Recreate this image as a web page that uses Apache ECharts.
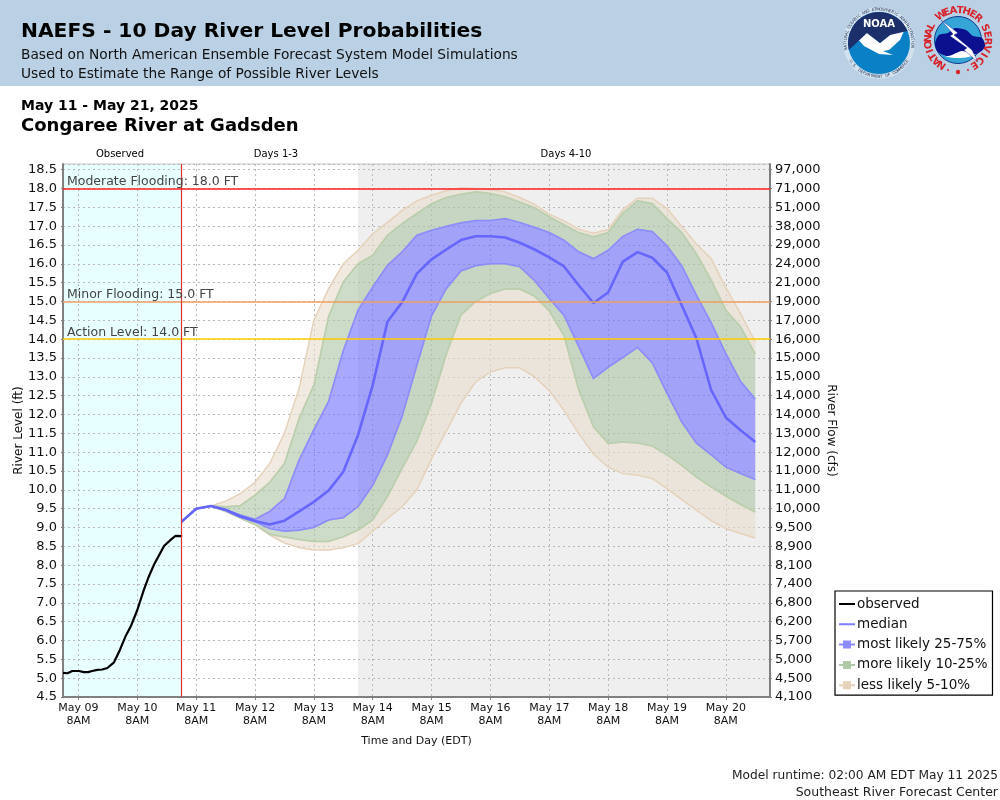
<!DOCTYPE html>
<html>
<head>
<meta charset="utf-8">
<style>html,body{margin:0;padding:0;background:#fff}#c{width:1000px;height:800px}</style>
<script src="https://cdn.jsdelivr.net/npm/echarts@6/dist/echarts.min.js"></script>
</head>
<body>
<div id="c"></div>
<script>
// Hours are counted from May 09 00:00 EDT.
const xTickHours = [8, 32, 56, 80, 104, 128, 152, 176, 200, 224, 248, 272];
const xTickLabels = ['May 09\n8AM','May 10\n8AM','May 11\n8AM','May 12\n8AM','May 13\n8AM','May 14\n8AM','May 15\n8AM','May 16\n8AM','May 17\n8AM','May 18\n8AM','May 19\n8AM','May 20\n8AM'];
const flowLabels = ['4,100','4,500','5,000','5,700','6,200','6,800','7,400','8,100','8,900','9,500','10,000','11,000','11,000','12,000','13,000','14,000','14,000','15,000','15,000','16,000','17,000','19,000','21,000','24,000','29,000','38,000','51,000','71,000','97,000'];
const obsHours = [1.7,2.4,3.5,5.5,8.2,10.2,11.9,13.6,15.7,17.7,19.8,22.5,24.9,27.2,29.3,32,34.7,36.7,39,42.9,45.6,47.6,50.3];
const observed = [5.14,5.15,5.13,5.19,5.19,5.16,5.16,5.19,5.22,5.23,5.27,5.42,5.75,6.11,6.37,6.81,7.35,7.7,8.04,8.51,8.67,8.78,8.77];
const fcHours = [50,56,62,68,74,80,86,92,98,104,110,116,122,128,134,140,146,152,158,164,170,176,182,188,194,200,206,212,218,224,230,236,242,248,254,260,266,272,278,284];
const median = [9.15,9.5,9.57,9.47,9.3,9.17,9.08,9.18,9.43,9.68,9.98,10.48,11.45,12.78,14.46,14.98,15.74,16.12,16.38,16.63,16.73,16.73,16.7,16.56,16.38,16.17,15.93,15.43,14.96,15.24,16.06,16.31,16.16,15.77,14.9,14.02,12.65,11.92,11.58,11.27];
const p75 = [9.15,9.5,9.57,9.47,9.33,9.22,9.43,9.77,10.8,11.6,12.35,13.7,14.77,15.39,15.96,16.32,16.76,16.89,17.0,17.09,17.15,17.15,17.2,17.1,16.97,16.83,16.63,16.32,16.14,16.36,16.73,16.92,16.86,16.48,15.95,15.17,14.44,13.62,12.88,12.41];
const p25 = [9.15,9.5,9.57,9.45,9.27,9.15,8.97,8.9,8.93,9.0,9.2,9.26,9.55,10.12,10.92,11.95,13.3,14.62,15.34,15.81,15.95,16.0,16.0,15.92,15.55,15.08,14.63,13.8,12.95,13.25,13.51,13.78,13.37,12.56,11.8,11.24,10.93,10.6,10.43,10.27];
const p90 = [9.15,9.5,9.57,9.55,9.58,9.86,10.2,10.7,11.9,12.78,14.6,15.52,16.0,16.23,16.76,17.07,17.34,17.6,17.76,17.85,17.91,17.87,17.78,17.64,17.49,17.25,17.04,16.83,16.72,16.83,17.35,17.67,17.6,17.2,16.83,16.27,15.57,14.77,14.33,13.6];
const p95 = [9.15,9.5,9.57,9.7,9.9,10.2,10.7,11.5,12.7,14.5,15.34,16.0,16.36,16.8,17.1,17.42,17.67,17.82,17.94,18.02,18.0,17.97,17.91,17.76,17.58,17.32,17.14,16.92,16.81,16.91,17.44,17.74,17.74,17.47,17.0,16.52,16.14,15.37,14.68,13.93];
const p10 = [9.15,9.5,9.57,9.43,9.25,9.08,8.82,8.75,8.68,8.63,8.63,8.75,8.93,9.2,9.82,10.57,11.29,12.3,13.6,14.64,15.0,15.21,15.33,15.33,15.14,14.75,14.09,12.65,11.67,11.23,11.27,11.24,11.16,10.93,10.65,10.34,10.08,9.83,9.61,9.41];
const p5 = [9.15,9.5,9.57,9.43,9.25,9.07,8.8,8.59,8.47,8.4,8.4,8.46,8.57,8.9,9.24,9.55,10.0,10.83,11.55,12.3,12.87,13.13,13.24,13.24,13.0,12.63,12.11,11.49,10.95,10.6,10.43,10.39,10.3,10.03,9.74,9.46,9.18,8.97,8.84,8.72];
const thresholdValues = [18, 15, 14];
const thresholdLabels = ['Moderate Flooding: 18.0 FT', 'Minor Flooding: 15.0 FT', 'Action Level: 14.0 FT'];
const thresholdColors = ['#ff2020', '#f0a060', '#ffcc00'];
const nowHour = 50, observedEndHour = 50, days4StartHour = 122;
const axisStart = 1.7, axisEnd = 290;

const F = 'DejaVu Sans';

function ringPolygons(api, rings, fill, edge) {
  const children = [];
  rings.forEach(([lo, hi]) => {
    const lower = fcHours.map((h, i) => api.coord([h, lo[i]]));
    const upper = fcHours.map((h, i) => api.coord([h, hi[i]]));
    children.push({type: 'polygon', shape: {points: lower.concat(upper.slice().reverse())}, style: {fill: fill, stroke: null}});
    children.push({type: 'polyline', shape: {points: lower}, style: {stroke: edge, lineWidth: 1.5, fill: 'none'}});
    children.push({type: 'polyline', shape: {points: upper}, style: {stroke: edge, lineWidth: 1.5, fill: 'none'}});
  });
  return {type: 'group', children};
}
function bandSeries(name, arrays, rings, fill, edge) {
  return {
    type: 'custom', name, silent: true, z: 2, clip: true,
    itemStyle: {color: edge},
    data: fcHours.map((h, i) => [h].concat(arrays.map(a => a[i]))),
    encode: {x: 0, y: arrays.map((_, k) => k + 1)},
    renderItem: (params, api) => params.dataIndex === 0 ? ringPolygons(api, rings, fill, edge) : null
  };
}
const lineIcon = 'path://M8,0L8,0ZM8,14L8,14ZM0,6H16V8H0Z';
const boxIcon = 'path://M8,0L8,0ZM8,14L8,14ZM0,6H4V3H12V6H16V8H12V11H4V8H0Z';

// logo drawing (decoration only, not chart data)
const logo = [];
function ringText(str, cx, cy, r, startDeg, stepDeg, font, color, inward) {
  [...str].forEach((ch, i) => {
    const a = (startDeg + i * stepDeg) * Math.PI / 180;
    logo.push({type: 'text', x: cx + r * Math.sin(a), y: cy - r * Math.cos(a), rotation: inward ? -a : Math.PI - a,
      style: {text: ch, font, fill: color, textAlign: 'center', textVerticalAlign: 'middle'}, silent: true, z: 5});
  });
}
// NOAA
const noaaArc = [];
for (let d = -103; d <= 67; d += 10) noaaArc.push([879 + 31 * Math.sin(d * Math.PI / 180), 43 - 31 * Math.cos(d * Math.PI / 180)]);
logo.push({type: 'circle', shape: {cx: 879, cy: 43, r: 36}, style: {fill: 'rgba(255,255,255,0.35)'}, z: 3});
logo.push({type: 'circle', shape: {cx: 879, cy: 43, r: 31}, style: {fill: '#0a80c6'}, z: 4});
logo.push({type: 'polygon', shape: {points: [[849,29],[867,33],[880,43],[890,35],[908,22],[900,40],[889,50],[883,51],[893,55],[879,54],[864,46]]}, style: {fill: '#fff'}, z: 4});
logo.push({type: 'polygon', shape: {points: noaaArc.concat([[890,35],[880,43],[867,33]])}, style: {fill: '#1d2f6b'}, z: 4});
logo.push({type: 'text', x: 879, y: 24, style: {text: 'NOAA', font: 'bold 10px ' + F, fill: '#fff', textAlign: 'center', textVerticalAlign: 'middle'}, z: 5});
ringText('NATIONAL OCEANIC AND ATMOSPHERIC ADMINISTRATION', 879, 43, 33.6, -100, 4.26, '4px ' + F, '#2a3a5c', true);
ringText('U.S. DEPARTMENT OF COMMERCE', 879, 43, 33.6, 237, -4.4, '4px ' + F, '#2a3a5c', false);
// NWS
logo.push({type: 'circle', shape: {cx: 958, cy: 40, r: 23.5}, style: {fill: '#35a5d8', stroke: '#143a8c', lineWidth: 1}, z: 4});
logo.push({type: 'polygon', shape: {points: [[940,52],[948,57],[960,58],[972,56],[979,50],[966,44],[950,44]], smooth: 0.3}, style: {fill: '#fff'}, z: 4});
logo.push({type: 'polygon', shape: {points: [[935,44],[939,35],[948,33],[955,28],[966,30],[973,36],[982,38],[985,47],[976,54],[962,51],[948,56],[938,52]], smooth: 0.3}, style: {fill: '#0b108e'}, z: 4});
logo.push({type: 'polygon', shape: {points: [[941,20],[958,33],[954,35],[972,50],[978,62],[964,50],[967,48],[950,36],[953,34]]}, style: {fill: '#fff', stroke: '#0b108e', lineWidth: 0.4}, z: 4});
ringText('NATIONAL', 958, 40, 29.5, -147, 12, 'bold 10px ' + F, '#d8232a', true);
ringText('WEATHER', 958, 40, 29.5, -35, 13, 'bold 10px ' + F, '#d8232a', true);
ringText('SERVICE', 958, 40, 29.5, 66, 13.5, 'bold 10px ' + F, '#d8232a', true);
[[948,70,1],[958,72,2.2],[968,70,1]].forEach(([x,y,r]) => logo.push({type: 'circle', shape: {cx: x, cy: y, r}, style: {fill: '#d8232a'}, z: 4}));

const option = {
  animation: false,
  backgroundColor: '#fff',
  textStyle: {fontFamily: F},
  title: [
    {text: 'NAEFS - 10 Day River Level Probabilities', left: 21, top: 22, textStyle: {fontFamily: F, fontSize: 20.25, fontWeight: 'bold', color: '#000'}, padding: 0},
    {text: 'Based on North American Ensemble Forecast System Model Simulations', left: 21, top: 48, textStyle: {fontFamily: F, fontSize: 13.75, fontWeight: 'normal', color: '#111'}, padding: 0},
    {text: 'Used to Estimate the Range of Possible River Levels', left: 21, top: 67, textStyle: {fontFamily: F, fontSize: 13.75, fontWeight: 'normal', color: '#111'}, padding: 0},
    {text: 'May 11 - May 21, 2025', left: 21, top: 99, textStyle: {fontFamily: F, fontSize: 14, fontWeight: 'bold', color: '#000'}, padding: 0},
    {text: 'Congaree River at Gadsden', left: 21, top: 117, textStyle: {fontFamily: F, fontSize: 18, fontWeight: 'bold', color: '#000'}, padding: 0},
    {text: 'Observed', left: 120, top: 149, textAlign: 'center', textStyle: {fontFamily: F, fontSize: 10, fontWeight: 'normal', color: '#000'}, padding: 0},
    {text: 'Days 1-3', left: 276, top: 149, textAlign: 'center', textStyle: {fontFamily: F, fontSize: 10, fontWeight: 'normal', color: '#000'}, padding: 0},
    {text: 'Days 4-10', left: 566, top: 149, textAlign: 'center', textStyle: {fontFamily: F, fontSize: 10, fontWeight: 'normal', color: '#000'}, padding: 0},
    {text: 'Model runtime: 02:00 AM EDT May 11 2025', right: 2, top: 770, textStyle: {fontFamily: F, fontSize: 12.2, fontWeight: 'normal', color: '#222'}, padding: 0},
    {text: 'Southeast River Forecast Center', right: 2, top: 786, textStyle: {fontFamily: F, fontSize: 12.5, fontWeight: 'normal', color: '#222'}, padding: 0}
  ],
  graphic: [{type: 'rect', shape: {x: 0, y: 0, width: 1000, height: 86}, style: {fill: '#bad1e5'}, z: -10, silent: true}].concat(logo),
  legend: {
    orient: 'vertical', left: 835, top: 591, padding: [6, 5, 3, 4], itemGap: 6.3, itemWidth: 16, itemHeight: 14,
    backgroundColor: '#fff', borderColor: '#000', borderWidth: 1.2, selectedMode: false,
    textStyle: {fontFamily: F, fontSize: 13.5, color: '#111', padding: [0, 0, 0, -3]},
    data: [
      {name: 'observed', icon: lineIcon, itemStyle: {color: '#000'}},
      {name: 'median', icon: lineIcon, itemStyle: {color: '#8080ff'}},
      {name: 'most likely 25-75%', icon: boxIcon, itemStyle: {color: '#8c8cff'}},
      {name: 'more likely 10-25%', icon: boxIcon, itemStyle: {color: '#aecaa6'}},
      {name: 'less likely 5-10%', icon: boxIcon, itemStyle: {color: '#e6d2ba'}}
    ]
  },
  grid: {left: 63, top: 164, width: 707, height: 533, outerBoundsMode: 'none', containLabel: false, show: true, borderColor: '#c4c4c4', borderWidth: 1, backgroundColor: 'transparent'},
  xAxis: {
    type: 'value', min: axisStart, max: axisEnd, name: 'Time and Day (EDT)', nameLocation: 'middle', nameGap: 39, nameMoveOverlap: false,
    nameTextStyle: {fontFamily: F, fontSize: 11, color: '#111'},
    axisLine: {show: true, lineStyle: {color: '#808080', width: 2}},
    axisTick: {show: true, customValues: xTickHours, length: 3, lineStyle: {color: '#808080'}},
    axisLabel: {customValues: xTickHours, fontFamily: F, fontSize: 11, lineHeight: 13, color: '#111', margin: 5,
      formatter: v => xTickLabels[xTickHours.indexOf(v)] || ''},
    splitLine: {show: true, lineStyle: {color: '#b8b8b8', type: [2, 3], width: 1}}
  },
  yAxis: [
    {
      type: 'value', min: 4.5, max: 18.65, interval: 0.5, position: 'left',
      name: 'River Level (ft)', nameLocation: 'middle', nameGap: 38, nameRotate: 90, nameMoveOverlap: false,
      nameTextStyle: {fontFamily: F, fontSize: 12, color: '#111'},
      axisLine: {show: true, lineStyle: {color: '#808080', width: 2}},
      axisTick: {show: true, length: 2, lineStyle: {color: '#808080'}},
      axisLabel: {fontFamily: F, fontSize: 13, color: '#111', margin: 6, padding: [3, 0, 0, 0], showMaxLabel: false, formatter: v => v.toFixed(1)},
      splitLine: {show: true, lineStyle: {color: '#b8b8b8', type: [2, 3], width: 1}}
    },
    {
      type: 'value', min: 4.5, max: 18.65, interval: 0.5, position: 'right',
      name: 'River Flow (cfs)', nameLocation: 'middle', nameGap: 55, nameRotate: -90, nameMoveOverlap: false,
      nameTextStyle: {fontFamily: F, fontSize: 12, color: '#111'},
      axisLine: {show: true, lineStyle: {color: '#808080', width: 2}},
      axisTick: {show: true, length: 2, lineStyle: {color: '#808080'}},
      axisLabel: {fontFamily: F, fontSize: 13, color: '#111', margin: 5, padding: [3, 0, 0, 0], showMaxLabel: false,
        formatter: v => flowLabels[Math.round((v - 4.5) / 0.5)] || ''},
      splitLine: {show: false}
    }
  ],
  series: [
    {type: 'line', name: 'backdrop', data: [], z: -1, silent: true,
      markArea: {silent: true, z: -1, data: [
        [{xAxis: axisStart, yAxis: 4.5, itemStyle: {color: '#e8ffff'}}, {xAxis: observedEndHour, yAxis: 18.65}],
        [{xAxis: days4StartHour, yAxis: 4.5, itemStyle: {color: '#efefef'}}, {xAxis: axisEnd, yAxis: 18.65}]
      ]}},
    bandSeries('less likely 5-10%', [p5, p10, p90, p95], [[p5, p10], [p90, p95]], 'rgba(232,220,205,0.6)', '#e6d2ba'),
    bandSeries('more likely 10-25%', [p10, p25, p75, p90], [[p10, p25], [p75, p90]], 'rgba(170,196,164,0.6)', '#b8d0ae'),
    bandSeries('most likely 25-75%', [p25, p75], [[p25, p75]], 'rgba(110,110,255,0.6)', '#8c8cff'),
    {type: 'line', name: 'median', z: 3, symbol: 'none', silent: true, itemStyle: {color: '#8080ff'},
      lineStyle: {color: '#6666ff', width: 2.6}, data: fcHours.map((h, i) => [h, median[i]])},
    {type: 'line', name: 'observed', z: 3, symbol: 'none', silent: true, itemStyle: {color: '#000'},
      lineStyle: {color: '#000', width: 2.2}, data: obsHours.map((h, i) => [h, observed[i]])},
    {type: 'line', name: 'thresholds', data: [], z: 4, silent: true,
      markLine: {silent: true, symbol: 'none', z: 4, animation: false, data:
        thresholdValues.map((v, i) => ({yAxis: v, lineStyle: {color: thresholdColors[i], type: 'solid', width: 1.5},
          label: {show: true, position: 'insideStartTop', distance: [4, 0], formatter: thresholdLabels[i], fontFamily: F, fontSize: 12.5, color: '#444'}}))
        .concat([{xAxis: nowHour, lineStyle: {color: '#e03030', type: 'solid', width: 1.2}, label: {show: false}}])
      }}
  ]
};
const chart = echarts.init(document.getElementById('c'), null, {width: 1000, height: 800});
chart.setOption(option);
</script>
</body>
</html>
